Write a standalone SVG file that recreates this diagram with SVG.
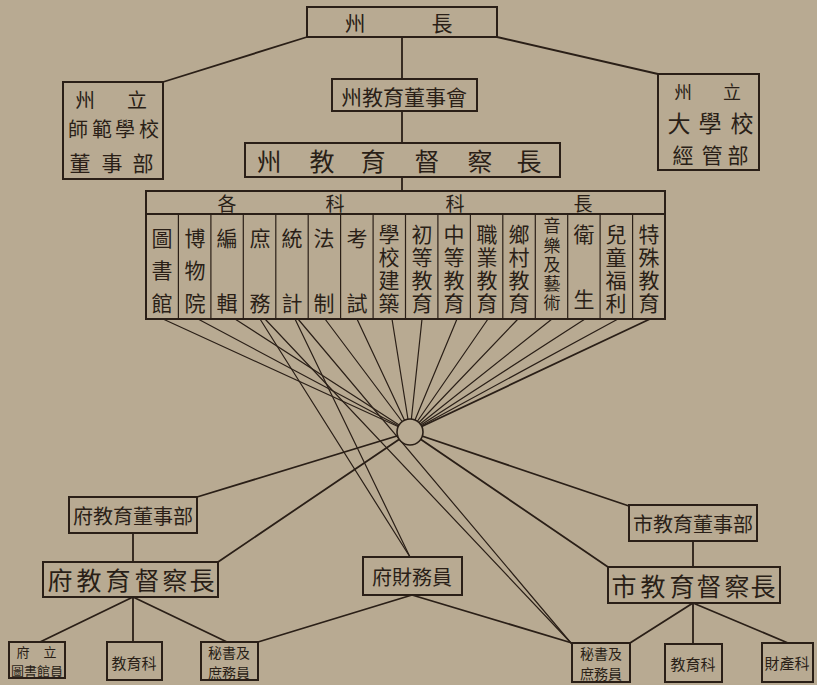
<svg xmlns="http://www.w3.org/2000/svg" width="817" height="685" viewBox="0 0 817 685">
<style>
.bx{fill:none;stroke:#2a1f17;stroke-width:2}
.ln{fill:none;stroke:#2a1f17;stroke-width:1.8;stroke-linecap:round}
.fn{fill:none;stroke:#2a1f17;stroke-width:1.2;stroke-linecap:round}
text{font-family:"Noto Sans CJK TC","Noto Sans CJK SC",sans-serif;fill:#2a1f17;text-anchor:middle;dominant-baseline:central}
.t26{font-size:25px}
.t22{font-size:21px}
.t20{font-size:20px}
.t16{font-size:15px}
.t14{font-size:14px}
.t13{font-size:13px}
.v{writing-mode:vertical-rl;text-anchor:start;font-size:21px}
.v3{letter-spacing:11.5px}
.v2{letter-spacing:44px}
.v4{letter-spacing:2px}
.v5{font-size:17px;letter-spacing:2.25px}
</style>
<rect x="0" y="0" width="817" height="685" fill="#b8aa92"/>

<g id="connectors">
  <line class="ln" x1="307" y1="37" x2="163" y2="82"/>
  <line class="ln" x1="402" y1="37" x2="402" y2="79"/>
  <line class="ln" x1="497" y1="37" x2="658" y2="74"/>
  <line class="ln" x1="402" y1="111" x2="402" y2="143"/>
  <line class="ln" x1="402" y1="177" x2="402" y2="191"/>
  <line class="fn" x1="163" y1="319" x2="410" y2="432"/>
  <line class="fn" x1="198" y1="319" x2="410" y2="432"/>
  <line class="fn" x1="235" y1="319" x2="410" y2="432"/>
  <line class="fn" x1="325" y1="319" x2="410" y2="432"/>
  <line class="fn" x1="357" y1="319" x2="410" y2="432"/>
  <line class="fn" x1="392" y1="319" x2="410" y2="432"/>
  <line class="fn" x1="422" y1="319" x2="410" y2="432"/>
  <line class="fn" x1="457" y1="319" x2="410" y2="432"/>
  <line class="fn" x1="488" y1="319" x2="410" y2="432"/>
  <line class="fn" x1="518" y1="319" x2="410" y2="432"/>
  <line class="fn" x1="552" y1="319" x2="410" y2="432"/>
  <line class="fn" x1="585" y1="319" x2="410" y2="432"/>
  <line class="fn" x1="618" y1="319" x2="410" y2="432"/>
  <line class="ln" x1="650" y1="319" x2="410" y2="432"/>
  <line class="fn" x1="260" y1="319" x2="410" y2="557"/>
  <line class="fn" x1="295" y1="319" x2="410" y2="557"/>
  <line class="fn" x1="265" y1="319" x2="571" y2="643"/>
  <line class="fn" x1="298" y1="319" x2="571" y2="643"/>
  <line class="ln" x1="410" y1="432" x2="197" y2="497"/>
  <line class="ln" x1="410" y1="432" x2="218" y2="562"/>
  <line class="ln" x1="410" y1="432" x2="629" y2="506"/>
  <line class="ln" x1="410" y1="432" x2="608" y2="567"/>
  <line class="ln" x1="133" y1="533" x2="133" y2="562"/>
  <line class="ln" x1="693" y1="541" x2="693" y2="567"/>
  <line class="ln" x1="133" y1="597" x2="40" y2="642"/>
  <line class="ln" x1="133" y1="597" x2="133" y2="642"/>
  <line class="ln" x1="133" y1="597" x2="227" y2="642"/>
  <line class="ln" x1="412" y1="595" x2="258" y2="642"/>
  <line class="ln" x1="412" y1="595" x2="572" y2="643"/>
  <line class="ln" x1="693" y1="603" x2="630" y2="643"/>
  <line class="ln" x1="693" y1="603" x2="693" y2="644"/>
  <line class="ln" x1="693" y1="603" x2="788" y2="643"/>
</g>

<g id="hub">
  <circle cx="410" cy="432" r="13" fill="#b8aa92" stroke="#2a1f17" stroke-width="1.6"/>
</g>

<g id="zhouzhang">
  <rect class="bx" x="307" y="7" width="190" height="30" fill="#b8aa92"/>
  <text class="t22" x="355" y="22">州</text>
  <text class="t22" x="442" y="22">長</text>
</g>

<g id="shifan">
  <rect class="bx" x="63" y="82" width="100" height="97"/>
  <text class="t20" x="85" y="99">州</text>
  <text class="t20" x="137" y="99">立</text>
  <text class="t20" x="78" y="128.5">師</text>
  <text class="t20" x="102" y="128.5">範</text>
  <text class="t20" x="125" y="128.5">學</text>
  <text class="t20" x="149" y="128.5">校</text>
  <text class="t22" x="80" y="162">董</text>
  <text class="t22" x="112" y="162">事</text>
  <text class="t22" x="143" y="162">部</text>
</g>

<g id="daxue">
  <rect class="bx" x="658" y="74" width="101" height="96"/>
  <text style="font-size:18px" x="683" y="91">州</text>
  <text style="font-size:18px" x="732" y="91">立</text>
  <text style="font-size:23px" x="679" y="122">大</text>
  <text style="font-size:23px" x="710" y="122">學</text>
  <text style="font-size:23px" x="742" y="122">校</text>
  <text class="t22" x="683" y="154">經</text>
  <text class="t22" x="712" y="154">管</text>
  <text class="t22" x="738" y="154">部</text>
</g>

<g id="dongshihui">
  <rect class="bx" x="332" y="79" width="145" height="32" fill="#b8aa92"/>
  <text class="t22" x="404" y="96">州教育董事會</text>
</g>

<g id="duchazhang">
  <rect class="bx" x="245" y="143" width="315" height="34" fill="#b8aa92"/>
  <text class="t26" x="269" y="160">州</text>
  <text class="t26" x="322" y="160">教</text>
  <text class="t26" x="373" y="160">育</text>
  <text class="t26" x="427" y="160">督</text>
  <text class="t26" x="480" y="160">察</text>
  <text class="t26" x="529" y="160">長</text>
</g>

<g id="kezhang">
  <rect class="bx" x="146" y="191" width="519" height="128"/>
  <line class="bx" x1="146" y1="214" x2="665" y2="214"/>
  <text style="font-size:19px" x="227" y="202">各</text>
  <text style="font-size:19px" x="335" y="202">科</text>
  <text style="font-size:19px" x="455" y="202">科</text>
  <text style="font-size:19px" x="583" y="202">長</text>
  <g class="fn">
    <line x1="178.4" y1="214" x2="178.4" y2="319"/>
    <line x1="210.9" y1="214" x2="210.9" y2="319"/>
    <line x1="243.3" y1="214" x2="243.3" y2="319"/>
    <line x1="275.8" y1="214" x2="275.8" y2="319"/>
    <line x1="308.2" y1="214" x2="308.2" y2="319"/>
    <line x1="340.6" y1="214" x2="340.6" y2="319"/>
    <line x1="373.1" y1="214" x2="373.1" y2="319"/>
    <line x1="405.5" y1="214" x2="405.5" y2="319"/>
    <line x1="437.9" y1="214" x2="437.9" y2="319"/>
    <line x1="470.4" y1="214" x2="470.4" y2="319"/>
    <line x1="502.8" y1="214" x2="502.8" y2="319"/>
    <line x1="535.3" y1="214" x2="535.3" y2="319"/>
    <line x1="567.7" y1="214" x2="567.7" y2="319"/>
    <line x1="600.1" y1="214" x2="600.1" y2="319"/>
    <line x1="632.6" y1="214" x2="632.6" y2="319"/>
  </g>
  <text class="v v3" x="162" y="227.5">圖書館</text>
  <text class="v v3" x="195" y="227.5">博物院</text>
  <text class="v v2" x="227" y="227.5">編輯</text>
  <text class="v v2" x="260" y="227.5">庶務</text>
  <text class="v v2" x="292" y="227.5">統計</text>
  <text class="v v2" x="324" y="227.5">法制</text>
  <text class="v v2" x="357" y="227.5">考試</text>
  <text class="v v4" x="389" y="223.5">學校建築</text>
  <text class="v v4" x="422" y="223.5">初等教育</text>
  <text class="v v4" x="454" y="223.5">中等教育</text>
  <text class="v v4" x="487" y="223.5">職業教育</text>
  <text class="v v4" x="519" y="223.5">鄉村教育</text>
  <text class="v v5" x="552" y="217.5">音樂及藝術</text>
  <text class="v v2" x="584" y="223.5">衛生</text>
  <text class="v v4" x="616" y="223.5">兒童福利</text>
  <text class="v v4" x="649" y="223.5">特殊教育</text>
</g>

<g id="fu-dongshibu">
  <rect class="bx" x="69" y="497" width="128" height="36" fill="#b8aa92"/>
  <text class="t20" x="133" y="515">府教育董事部</text>
</g>

<g id="fu-duchazhang">
  <rect class="bx" x="43" y="562" width="175" height="35" fill="#b8aa92"/>
  <text class="t26" x="60" y="579">府</text>
  <text class="t26" x="89" y="579">教</text>
  <text class="t26" x="118" y="579">育</text>
  <text class="t26" x="147" y="579">督</text>
  <text class="t26" x="175" y="579">察</text>
  <text class="t26" x="202" y="579">長</text>
</g>

<g id="fu-caiwuyuan">
  <rect class="bx" x="363" y="557" width="99" height="38" fill="#b8aa92"/>
  <text class="t20" x="412" y="576">府財務員</text>
</g>

<g id="fu-tushuguanyuan">
  <rect class="bx" x="9" y="642" width="56" height="36" fill="#b8aa92"/>
  <text class="t13" x="23" y="651">府</text>
  <text class="t13" x="50" y="651">立</text>
  <text class="t13" x="37" y="670">圖書館員</text>
</g>

<g id="fu-jiaoyuke">
  <rect class="bx" x="107" y="642" width="55" height="38" fill="#b8aa92"/>
  <text class="t16" x="134" y="662">教育科</text>
</g>

<g id="fu-mishu">
  <rect class="bx" x="201" y="642" width="57" height="38" fill="#b8aa92"/>
  <text class="t14" x="229" y="651.5">秘書及</text>
  <text class="t14" x="229" y="672">庶務員</text>
</g>

<g id="shi-dongshibu">
  <rect class="bx" x="629" y="505" width="128" height="36" fill="#b8aa92"/>
  <text class="t20" x="693" y="523">市教育董事部</text>
</g>

<g id="shi-duchazhang">
  <rect class="bx" x="608" y="567" width="172" height="36" fill="#b8aa92"/>
  <text class="t26" x="624" y="585">市</text>
  <text class="t26" x="653" y="585">教</text>
  <text class="t26" x="682" y="585">育</text>
  <text class="t26" x="709" y="585">督</text>
  <text class="t26" x="737" y="585">察</text>
  <text class="t26" x="763" y="585">長</text>
</g>

<g id="shi-mishu">
  <rect class="bx" x="572" y="643" width="58" height="39" fill="#b8aa92"/>
  <text class="t14" x="601" y="652.5">秘書及</text>
  <text class="t14" x="601" y="673">庶務員</text>
</g>

<g id="shi-jiaoyuke">
  <rect class="bx" x="665" y="644" width="57" height="38" fill="#b8aa92"/>
  <text class="t16" x="693" y="663">教育科</text>
</g>

<g id="shi-caichanke">
  <rect class="bx" x="762" y="643" width="51" height="39" fill="#b8aa92"/>
  <text class="t16" x="787" y="662">財產科</text>
</g>
</svg>
